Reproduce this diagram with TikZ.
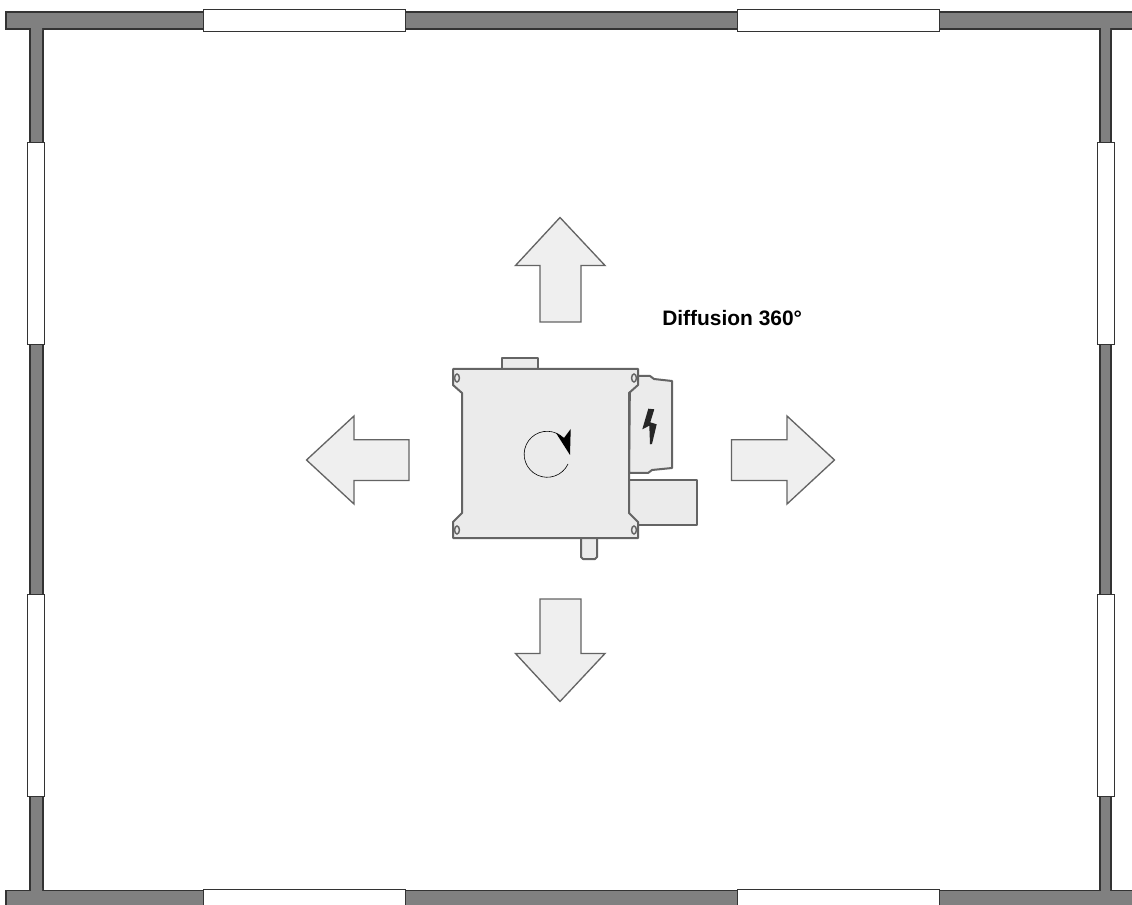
\documentclass[tikz,border=0pt]{standalone}
\usepackage{fontspec}
\setmainfont{Liberation Sans}
\definecolor{wallgrey}{HTML}{808080}
\definecolor{walledge}{HTML}{333333}
\definecolor{boxfill}{HTML}{EBEBEB}
\definecolor{boxedge}{HTML}{646464}
\definecolor{arrowfill}{HTML}{EFEFEF}
\definecolor{arrowedge}{HTML}{646464}
\tikzset{
  wall/.style={fill=wallgrey,draw=walledge,line width=1pt},
  window/.style={fill=white,draw=walledge,line width=0.7pt},
  casing/.style={fill=boxfill,draw=boxedge,line width=1.5pt,line join=round},
  flow/.style={fill=arrowfill,draw=arrowedge,line width=1pt,line join=miter},
  hole/.style={fill=boxfill,draw=boxedge,line width=1.1pt},
  label/.style={font=\bfseries\fontsize{15.7pt}{18pt}\selectfont,anchor=base west,inner sep=0pt}
}
\begin{document}
\begin{tikzpicture}[x=0.75pt,y=-0.75pt]
\useasboundingbox (0,0) rectangle (1132,905);
\fill[white] (0,0) rectangle (1132,905);
% walls
\draw[wall] (30,29) rectangle (43,890);
\draw[wall] (1100,29) rectangle (1111,890);
\draw[wall] (6,12) rectangle (1140,29);
\draw[wall] (6,890.5) rectangle (1140,915);
\fill[wallgrey] (31,27) rectangle (42,31) (1101,27) rectangle (1110,31) (31,888) rectangle (42,893) (1101,888) rectangle (1110,893);
% windows
\foreach \xa in {203,737} \draw[window] (\xa,9) rectangle ++(202,22);
\foreach \xa in {203,737} \draw[window] (\xa,915) -- (\xa,889) -- ++(202,0) -- ++(0,26);
\foreach \ya in {142,594} {
  \draw[window] (27.5,\ya) rectangle ++(16.5,202.5);
  \draw[window] (1097.5,\ya) rectangle ++(16.5,202.5);
}
% flow arrows
\draw[flow] (560,217.5) -- (605,265.5) -- (581,265.5) -- (581,322) -- (540,322) -- (540,265.5) -- (515.5,265.5) -- cycle;
\draw[flow] (560,701.5) -- (605,653.5) -- (581,653.5) -- (581,599) -- (540,599) -- (540,653.5) -- (515.5,653.5) -- cycle;
\draw[flow] (306.5,460) -- (354,416) -- (354,439.7) -- (409,439.7) -- (409,480.5) -- (354,480.5) -- (354,504) -- cycle;
\draw[flow] (834.5,460) -- (787,416) -- (787,439.7) -- (731.5,439.7) -- (731.5,480.5) -- (787,480.5) -- (787,504) -- cycle;
% side boxes and tabs
\draw[casing] (629,480) -- (697,480) -- (697,525) -- (629,525) -- cycle;
\draw[casing] (630,376) -- (650,376) -- (654,379) -- (672,381) -- (672,468) -- (652,470) -- (648,473) -- (629,473) -- cycle;
\draw[casing] (502,370) -- (502,358) -- (538,358) -- (538,370) -- cycle;
\draw[casing] (581,537) -- (581,557) -- (583,559) -- (595,559) -- (597,557) -- (597,537) -- cycle;
% casing
\draw[casing] (453,369) -- (638,369) -- (638,385) -- (629,393) -- (629,513) -- (638,522) -- (638,538) -- (453,538) -- (453,522) -- (462,513) -- (462,393) -- (453,385) -- cycle;
\foreach \xa in {457,634} \foreach \ya in {378,530}
  \draw[hole] (\xa,\ya) ellipse [x radius=2.4,y radius=4];
% rotation mark
\draw[black,line width=0.45pt] (568,464) arc[start angle=25,end angle=325,radius=23];
\fill[black] (570.7,429) -- (570,455) -- (556,433) -- (564,438) -- cycle;
% lightning bolt
\fill[black!85] (648.3,408.7) -- (654.3,409.3) -- (650.3,422.3) -- (656.7,424.3) -- (652,444) -- (650,444.3) -- (649.3,425.7) -- (642.3,429.3) -- cycle;
% label
\node[label] (diffusion) at (662,326) {Diffusion 360°};
\end{tikzpicture}
\end{document}
